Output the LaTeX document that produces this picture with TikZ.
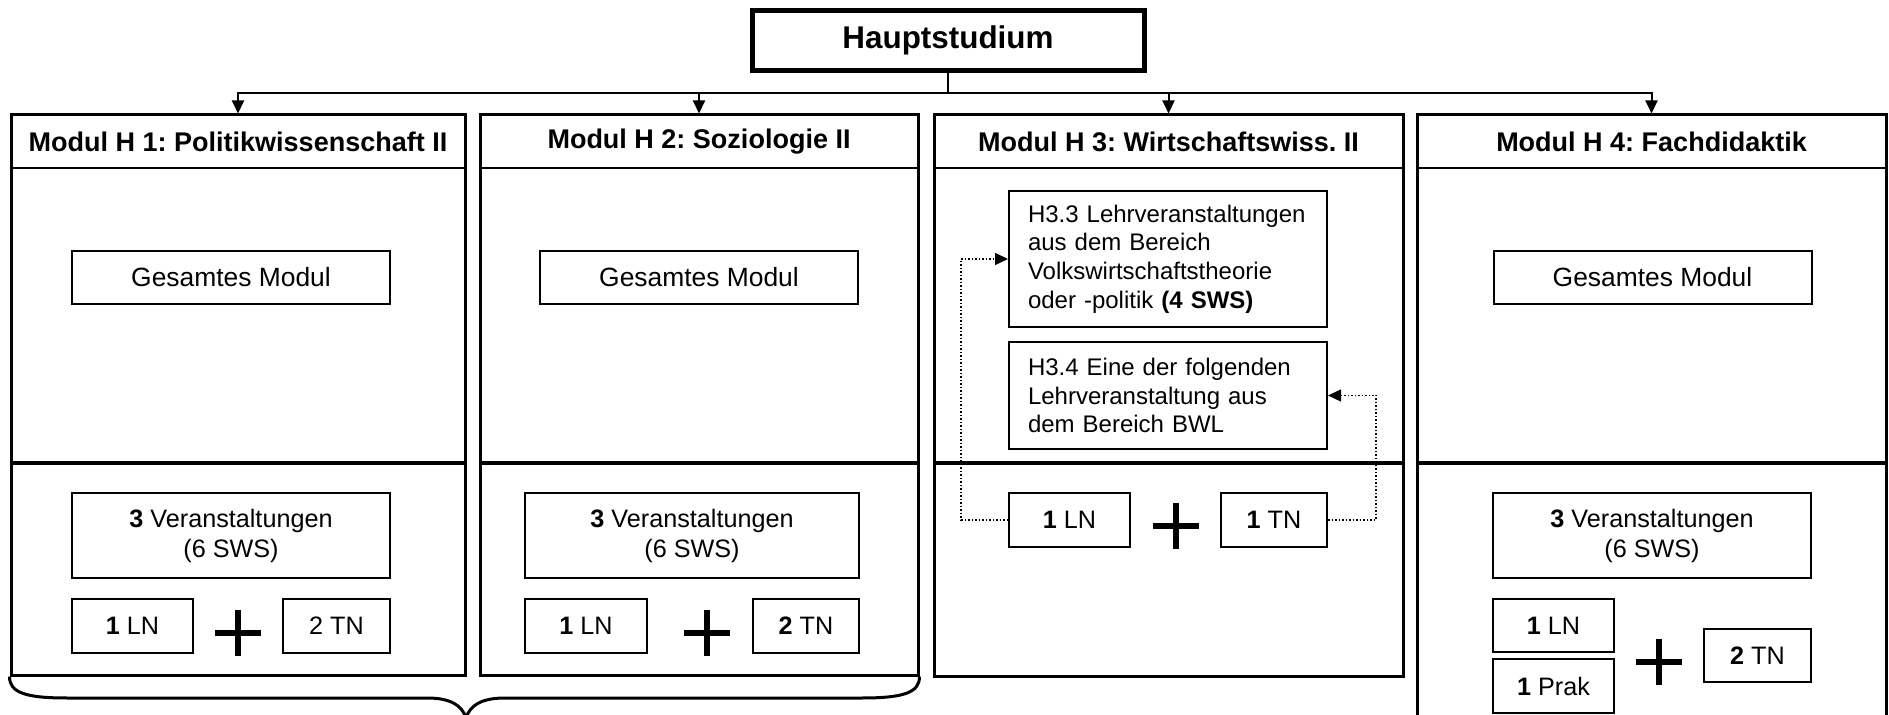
\documentclass[tikz,border=0pt]{standalone}
\usepackage{fontspec}
\setmainfont{Liberation Sans}
\usetikzlibrary{arrows.meta}
\frenchspacing
\begin{document}
\begin{tikzpicture}[x=0.5pt,y=-0.5pt,
  every node/.style={font=\fontsize{12.6}{15}\selectfont, inner sep=0pt},
  modbox/.style={draw, line width=1.5pt, rectangle},
  ibox/.style={draw, line width=1pt, align=center},
  gbox/.style={ibox, font=\fontsize{13.2}{15}\selectfont},
  hbox/.style={ibox, align=left, text width=140pt, inner xsep=9.5pt, font=\fontsize{12}{14.3}\selectfont},
  hdr/.style={font=\fontsize{13.5}{15}\selectfont\bfseries},
  conn/.style={line width=1pt},
  arr/.style={line width=1pt, -{Triangle[length=6.5pt,width=6pt]}},
  dotconn/.style={line width=0.75pt, dash pattern=on 0.75pt off 1pt, -{Triangle[length=6.5pt,width=6pt]}},
  plussign/.style={minimum size=23pt, path picture={\draw[line width=3pt] (path picture bounding box.north) -- (path picture bounding box.south) (path picture bounding box.west) -- (path picture bounding box.east);}},
  sepline/.style={line width=2.2pt},
  hline/.style={line width=1pt},
  bracestyle/.style={line width=1.5pt}
]
\useasboundingbox (0,0) rectangle (1889,715);
\fill[white] (0,0) rectangle (1889,715);

% top node
\node[draw, line width=2.5pt, minimum width=196pt, minimum height=30pt,
      font=\fontsize{15.7}{18}\selectfont\bfseries] (hs) at (948,40.5) {Hauptstudium};

% modules
\node[modbox, minimum width=227pt, minimum height=280pt] (m1) at (238,395) {};
\node[modbox, minimum width=219pt, minimum height=280pt] (m2) at (699,395) {};
\node[modbox, minimum width=234.5pt, minimum height=280.5pt] (m3) at (1168.5,395.5) {};
\node[modbox, minimum width=234.5pt, minimum height=310pt] (m4) at (1651.5,425) {};

\node[hdr] (t1) at (238,141.5) {Modul H 1: Politikwissenschaft II};
\node[hdr] (t2) at (699,141.5) {Modul H 2: Soziologie II};
\node[hdr] (t3) at (1168.5,141.5) {Modul H 3: Wirtschaftswiss. II};
\node[hdr] (t4) at (1651.5,141.5) {Modul H 4: Fachdidaktik};

\foreach \m in {m1,m2,m3,m4} {
  \draw[hline] (\m.west |- 0,168) -- (\m.east |- 0,168);
  \draw[sepline] (\m.west |- 0,463) -- (\m.east |- 0,463);
}

% connectors from top
\coordinate (bus) at (948,93);
\draw[conn] (hs.south) -- (bus);
\foreach \m in {m1,m2,m3,m4} \draw[arr] (bus) -| (\m.north);

% Gesamtes Modul
\node[gbox, minimum width=159pt, minimum height=26.5pt] (g1) at (231,277.5) {Gesamtes Modul};
\node[gbox, minimum width=159pt, minimum height=26.5pt] (g2) at (699,277.5) {Gesamtes Modul};
\node[gbox, minimum width=159pt, minimum height=26.5pt] (g4) at (1652.5,277.5) {Gesamtes Modul};

% Veranstaltungen
\node[ibox, minimum width=159pt, minimum height=42.5pt] (v1) at (231,535.5) {\textbf{3} Veranstaltungen\\(6 SWS)};
\node[ibox, minimum width=167pt, minimum height=42.5pt] (v2) at (692,535.5) {\textbf{3} Veranstaltungen\\(6 SWS)};
\node[ibox, minimum width=159pt, minimum height=42.5pt] (v4) at (1652,535.5) {\textbf{3} Veranstaltungen\\(6 SWS)};

% small boxes
\node[ibox, minimum width=60.5pt, minimum height=27pt] (ln1) at (132.5,626) {\textbf{1} LN};
\node[ibox, minimum width=53.5pt, minimum height=27pt] (tn1) at (336.5,626) {2 TN};
\node[plussign] (p1) at (238,633) {};

\node[ibox, minimum width=61pt, minimum height=27pt] (ln2) at (586,626) {\textbf{1} LN};
\node[ibox, minimum width=53pt, minimum height=27pt] (tn2) at (806,626) {\textbf{2} TN};
\node[plussign] (p2) at (707,633) {};

\node[ibox, minimum width=60.5pt, minimum height=27pt] (ln3) at (1069.5,520) {\textbf{1} LN};
\node[ibox, minimum width=53pt, minimum height=27pt] (tn3) at (1274,520) {\textbf{1} TN};
\node[plussign] (p3) at (1176,526) {};

\node[ibox, minimum width=60.5pt, minimum height=26.5pt] (ln4) at (1553.5,625.5) {\textbf{1} LN};
\node[ibox, minimum width=60.5pt, minimum height=27pt] (pr4) at (1553.5,686) {\textbf{1} Prak};
\node[ibox, minimum width=53.5pt, minimum height=26.5pt] (tn4) at (1757.5,655.5) {\textbf{2} TN};
\node[plussign] (p4) at (1659,662) {};

% H3 boxes
\node[hbox, minimum height=68pt] (h33) at (1168,259)
  {H3.3 Lehrveranstaltungen\\aus dem Bereich\\Volkswirtschaftstheorie\\oder -politik \textbf{(4 SWS)}};
\node[hbox, minimum height=53.5pt] (h34) at (1168,395.5)
  {H3.4 Eine der folgenden\\Lehrveranstaltung aus\\dem Bereich BWL};

\draw[dotconn] (ln3.west) -- ++(-47,0) |- (h33.west);
\draw[dotconn] (tn3.east) -- ++(48,0) |- (h34.east);

% brace under H1 and H2
\draw[bracestyle] (m1.south west) .. controls ++(0,16) and (25,698) .. (67,698)
   -- (427,698) .. controls (450,698) and (462,705) .. (466,718);
\draw[bracestyle] (m2.south east) .. controls ++(0,16) and (904,698) .. (862,698)
   -- (505,698) .. controls (482,698) and (470,705) .. (466,718);
\end{tikzpicture}
\end{document}
